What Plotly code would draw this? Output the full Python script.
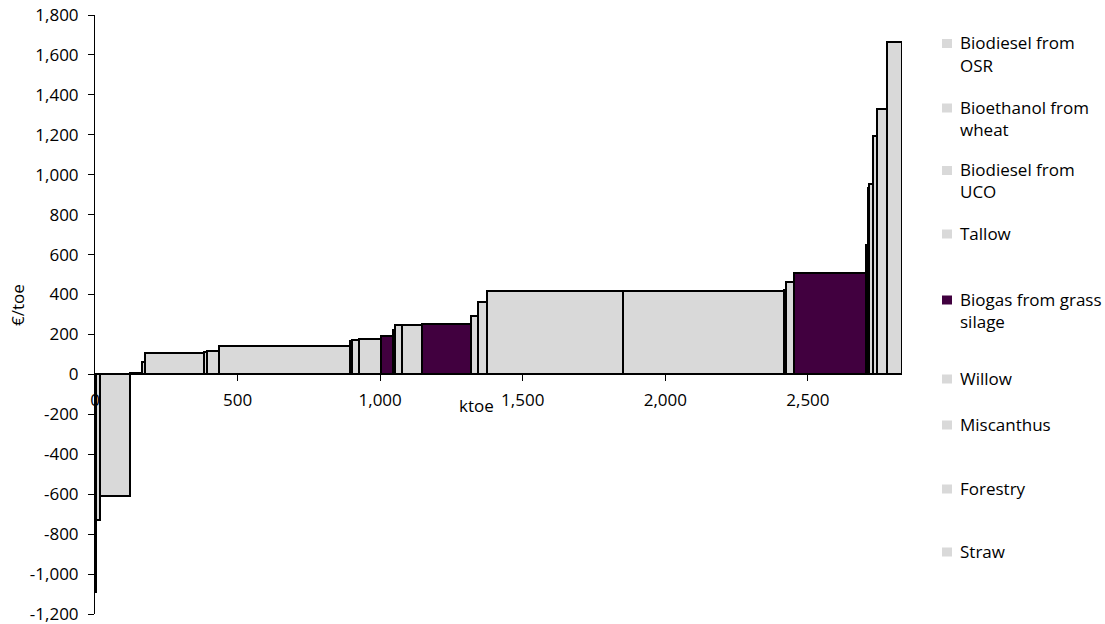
import plotly.graph_objects as go

# ---- data ----
# width of each bar = resource volume (ktoe), height = cost (€/toe)
volumes_ktoe = [4, 15, 103, 43, 12, 206, 10, 43, 457, 9, 23, 78, 41, 7, 24, 73,
                172, 23, 31, 479, 562, 8, 29, 253, 7, 3, 12, 14, 35, 53]
costs_eur_toe = [-1090, -730, -608, 6, 63, 105, 113, 117, 143, 167, 170, 178, 193, 222, 248, 248,
                 250, 293, 362, 417, 418, 425, 462, 508, 650, 933, 953, 1193, 1330, 1665]
is_biogas = [0, 0, 0, 0, 0, 0, 0, 0, 0, 0, 0, 0, 1, 0, 0, 0,
             1, 0, 0, 0, 0, 0, 0, 1, 0, 0, 0, 0, 0, 0]

legend_names = ["Biodiesel from OSR", "Bioethanol from wheat", "Biodiesel from UCO", "Tallow",
                "Biogas from grass silage", "Willow", "Miscanthus", "Forestry", "Straw"]
legend_lines = [["Biodiesel from", "OSR"], ["Bioethanol from", "wheat"], ["Biodiesel from", "UCO"],
                ["Tallow"], ["Biogas from grass", "silage"], ["Willow"], ["Miscanthus"],
                ["Forestry"], ["Straw"]]

x_tick_vals = [0, 500, 1000, 1500, 2000, 2500]
x_tick_text = ["0", "500", "1,000", "1,500", "2,000", "2,500"]
y_tick_vals = list(range(-1200, 1801, 200))
y_tick_text = ["-1,200", "-1,000", "-800", "-600", "-400", "-200", "0", "200", "400", "600",
               "800", "1,000", "1,200", "1,400", "1,600", "1,800"]

# ---- styling ----
GREY = "#d9d9d9"
PURPLE = "#41003f"
FONT = "Open Sans"
FS = 17

W, H = 1105, 624
ML, MR, MT, MB = 95, 203, 15, 10
PW, PH = W - ML - MR, H - MT - MB

def px_x(px):
    return (px - ML) / PW

def px_y(py):
    return 1 - (py - MT) / PH

# cumulative positions
starts = []
acc = 0
for w in volumes_ktoe:
    starts.append(acc)
    acc += w
centers = [s + w / 2 for s, w in zip(starts, volumes_ktoe)]
colors = [PURPLE if b else GREY for b in is_biogas]

fig = go.Figure()
fig.add_trace(go.Bar(
    x=centers, y=costs_eur_toe, width=volumes_ktoe,
    marker=dict(color=colors, line=dict(color="black", width=2)),
    showlegend=False, hoverinfo="x+y",
))

fig.update_layout(
    width=W, height=H,
    margin=dict(l=ML, r=MR, t=MT, b=MB, pad=0, autoexpand=False),
    plot_bgcolor="white", paper_bgcolor="white",
    font=dict(family=FONT, size=FS, color="black"),
    bargap=0,
    showlegend=False,
    xaxis=dict(range=[0, 2830], tickvals=x_tick_vals, ticktext=x_tick_text,
               showline=True, linecolor="black", linewidth=1,
               ticks="outside", ticklen=6, tickcolor="black",
               showgrid=False, zeroline=False, automargin=False,
               anchor="free", position=0.4, ticklabelstandoff=4),
    yaxis=dict(range=[-1200, 1800], tickvals=y_tick_vals, ticktext=y_tick_text,
               showline=True, linecolor="black", linewidth=1,
               ticks="outside", ticklen=6, tickcolor="black",
               showgrid=False, zeroline=False, ticklabelstandoff=6,
               automargin=False, ticklabeloverflow="allow"),
)

annotations = [
    dict(text="ktoe", x=px_x(476), y=px_y(406), xref="paper", yref="paper",
         xanchor="center", yanchor="middle", showarrow=False, font=dict(size=FS)),
    dict(text="€/toe", x=px_x(17), y=px_y(305), xref="paper", yref="paper",
         xanchor="center", yanchor="middle", showarrow=False, textangle=-90, font=dict(size=FS)),
]

# manual legend (layout positions in pixels)
legend_y_px = [42.5, 107, 169.5, 233, 299, 378, 424, 488, 551]
LINE_GAP = 22.5
shapes = []
for name, lines, ypx in zip(legend_names, legend_lines, legend_y_px):
    col = PURPLE if name == "Biogas from grass silage" else GREY
    shapes.append(dict(type="rect", xref="paper", yref="paper",
                       x0=px_x(942), x1=px_x(952), y0=px_y(ypx - 3.5), y1=px_y(ypx + 5.5),
                       fillcolor=col, line=dict(width=0)))
    for i, ln in enumerate(lines):
        annotations.append(dict(text=ln, x=px_x(957.5), y=px_y(ypx + i * LINE_GAP),
                                xref="paper", yref="paper", xanchor="left", yanchor="middle",
                                showarrow=False, font=dict(size=FS)))

fig.update_layout(annotations=annotations, shapes=shapes)

fig.write_html("out.html", config={"displayModeBar": False},
               post_script="document.body.style.margin='0';document.body.style.overflow='hidden';")
